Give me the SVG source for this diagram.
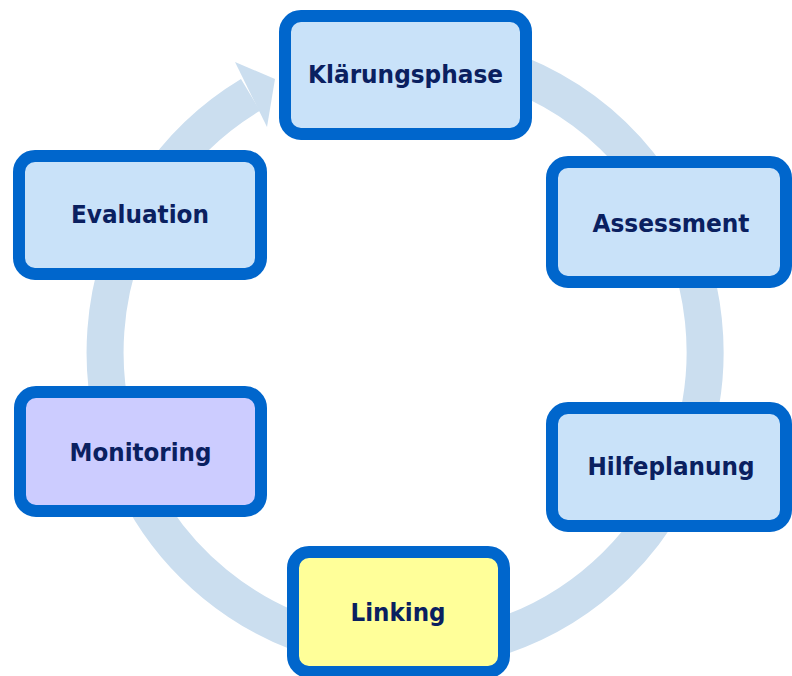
<svg xmlns="http://www.w3.org/2000/svg" width="792" height="676" viewBox="0 0 792 676">
<style>
.box{stroke:#0066cc;stroke-width:12}
.blue{fill:#c9e2f9}
.yellow{fill:#ffff99}
.violet{fill:#ccccff}
.lbl{font-family:"DejaVu Sans","Liberation Sans",sans-serif;font-weight:bold;font-size:25px;fill:#0a2060;text-anchor:middle}
.ring{fill:none;stroke:#cbdeef;stroke-width:37}
</style>
<rect width="792" height="676" fill="#ffffff"/>
<g id="connectors">
<path class="ring" d="M 405 52 A 300 300 0 1 1 250.5 94.9"/>
<polygon points="235,62 275,79 267,127" fill="#cbdeef"/>
</g>
<g id="klaerungsphase">
<rect class="box blue" x="285" y="16" width="241" height="118" rx="16"/>
<text class="lbl" x="405.5" y="83" textLength="195" lengthAdjust="spacingAndGlyphs">Klärungsphase</text>
</g>
<g id="assessment">
<rect class="box blue" x="552" y="162" width="234" height="120" rx="16"/>
<text class="lbl" x="671" y="232" textLength="157" lengthAdjust="spacingAndGlyphs">Assessment</text>
</g>
<g id="hilfeplanung">
<rect class="box blue" x="552" y="408" width="234" height="118" rx="16"/>
<text class="lbl" x="671" y="475" textLength="167" lengthAdjust="spacingAndGlyphs">Hilfeplanung</text>
</g>
<g id="linking">
<rect class="box yellow" x="293" y="552" width="211" height="120" rx="16"/>
<text class="lbl" x="398" y="621" textLength="95" lengthAdjust="spacingAndGlyphs">Linking</text>
</g>
<g id="monitoring">
<rect class="box violet" x="20" y="392" width="241" height="119" rx="16"/>
<text class="lbl" x="140.5" y="461" textLength="142" lengthAdjust="spacingAndGlyphs">Monitoring</text>
</g>
<g id="evaluation">
<rect class="box blue" x="19" y="156" width="242" height="118" rx="16"/>
<text class="lbl" x="140" y="223" textLength="138" lengthAdjust="spacingAndGlyphs">Evaluation</text>
</g>
</svg>
